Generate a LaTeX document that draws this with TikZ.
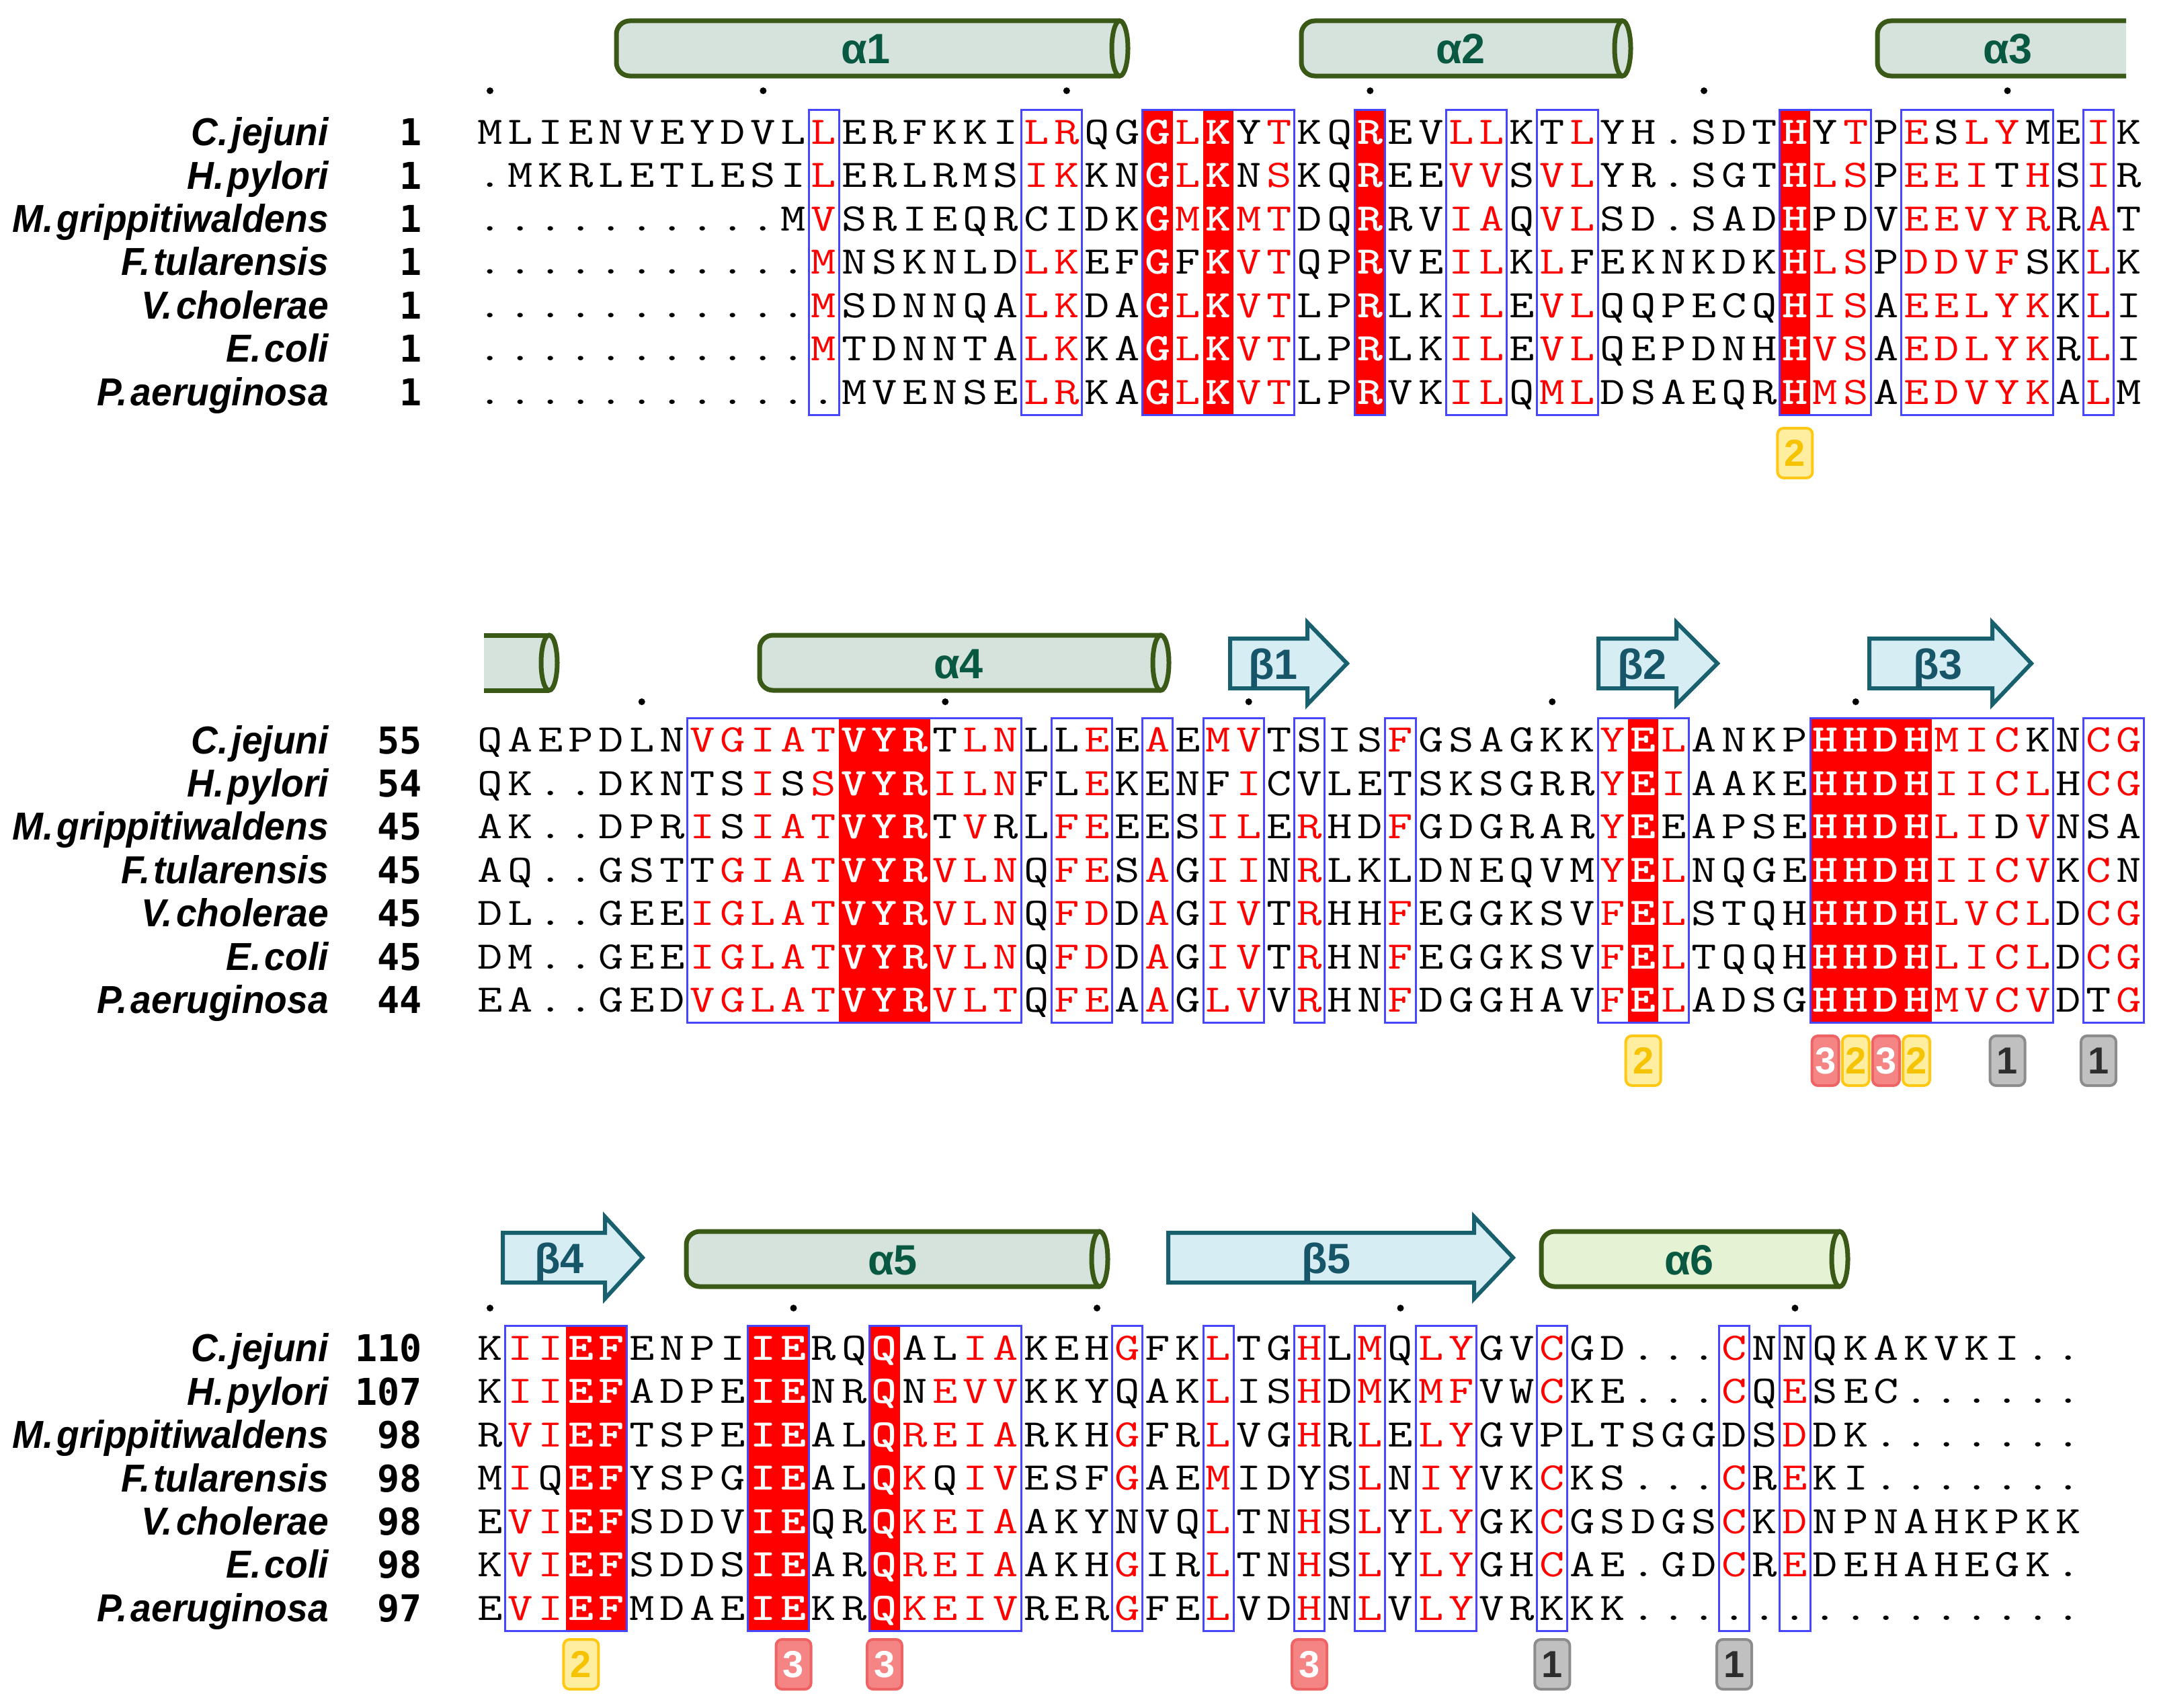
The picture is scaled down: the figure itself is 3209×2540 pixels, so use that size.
\documentclass[tikz,border=0pt]{standalone}
\usepackage{fontspec}
\usepackage{graphicx}
\newfontfamily\labfont[FakeStretch=0.95]{Liberation Sans}
\newfontfamily\ssfont{Liberation Sans}
\newfontfamily\numfont{DejaVu Sans Mono}

\definecolor{seqred}{RGB}{255,0,0}
\definecolor{boxblue}{RGB}{70,70,255}
\definecolor{hxfill}{RGB}{213,227,220}
\definecolor{hxfillb}{RGB}{229,242,212}
\definecolor{hxline}{RGB}{58,88,22}
\definecolor{hxtext}{RGB}{8,88,66}
\definecolor{btfill}{RGB}{214,237,244}
\definecolor{btline}{RGB}{24,96,110}
\definecolor{bttext}{RGB}{22,86,104}
\definecolor{gAfill}{RGB}{192,192,192}
\definecolor{gAline}{RGB}{140,140,140}
\definecolor{gAtext}{RGB}{45,45,45}
\definecolor{gBfill}{RGB}{255,238,160}
\definecolor{gBline}{RGB}{255,200,20}
\definecolor{gBtext}{RGB}{245,195,0}
\definecolor{gCfill}{RGB}{245,132,132}
\definecolor{gCline}{RGB}{238,100,100}

\newcommand\seqfnt{\ttfamily\fontsize{58}{60}\selectfont}
\newcommand\seqfntb{\ttfamily\bfseries\fontsize{58}{60}\selectfont}

% ---- sequence row machinery ----
\newcount\SQcol
\def\SQend{\SQend}
\def\SQrow#1#2#3{\def\SQrowid{#1}\pgfmathsetmacro\SQy{#2+17.7}\global\SQcol=0 \SQprocA#3\SQend}
\def\SQprocA#1{\ifx#1\SQend\let\SQnext\relax\else\chardef\SQcode=`#1\relax\let\SQnext\SQprocB\fi\SQnext}
\def\SQprocB{\SQplace\global\advance\SQcol by 1\relax\SQprocA}
\def\SQplace{%
  \pgfmathsetmacro\SQx{\SQxo+\the\SQcol*\SQp}%
  \ifnum\SQcode>96 \chardef\SQup=\numexpr\SQcode-32\relax\else\chardef\SQup=\SQcode\fi
  \ifcsname rc-\SQblk-\the\SQcol\endcsname
    \node[wch] (b\SQblk r\SQrowid c\the\SQcol) at (\SQx,\SQy) {\scalebox{1.25}[1]{\char\SQup}};%
  \else\ifnum\SQcode>96
    \node[rch] (b\SQblk r\SQrowid c\the\SQcol) at (\SQx,\SQy) {\scalebox{1.25}[1]{\char\SQup}};%
  \else
    \node[kch] (b\SQblk r\SQrowid c\the\SQcol) at (\SQx,\SQy) {\scalebox{1.25}[1]{\char\SQup}};%
  \fi\fi}

\newcommand\SQbox[2]{\draw[bbox] ({\SQxo+(#1-0.5)*\SQp},\SQtop) rectangle ({\SQxo+(#2+0.5)*\SQp},\SQbot);}
\newcommand\SQred[2]{\fill[redcol] ({\SQxo+(#1-0.5)*\SQp},\SQtop) rectangle ({\SQxo+(#2+0.5)*\SQp},\SQbot);}
\newcommand\SQdots[2]{\foreach \c in {#2} {\fill ({\SQxo+\c*\SQp},#1) circle [radius=5];}}
\newcommand\SQname[4]{%
  \node[splab] (lab#1) at (489,{#2+20}) {#3};
  \node[numlab] (num#1) at (628,{#2+20}) {#4};}
\newcommand\SQbadge[6]{\node[#2, minimum width=#5pt] (#1) at ({\SQxo+#3*\SQp},#4) {#6};}

% ---- secondary structure ----
\newcommand\HelixFull[4]{%
  \fill[#4] ({#1+20},{#3-41}) rectangle (#2,{#3+41});
  \fill[#4,rounded corners=20pt] (#1,{#3-41}) rectangle ({#1+45},{#3+41});
  \draw[hxl,rounded corners=20pt] (#2,{#3-41}) -- (#1,{#3-41}) -- (#1,{#3+41}) -- (#2,{#3+41});
  \filldraw[hxl,fill=#4] (#2,#3) ellipse [x radius=12,y radius=41];}
\newcommand\HelixOpenR[4]{%
  \fill[#4] ({#1+20},{#3-41}) rectangle (#2,{#3+41});
  \fill[#4,rounded corners=20pt] (#1,{#3-41}) rectangle ({#1+45},{#3+41});
  \draw[hxl,rounded corners=20pt] (#2,{#3-41}) -- (#1,{#3-41}) -- (#1,{#3+41}) -- (#2,{#3+41});}
\newcommand\HelixOpenL[4]{%
  \fill[#4] (#1,{#3-41}) rectangle (#2,{#3+41});
  \draw[hxl] (#1,{#3-41}) -- (#2,{#3-41});
  \draw[hxl] (#1,{#3+41}) -- (#2,{#3+41});
  \filldraw[hxl,fill=#4] (#2,#3) ellipse [x radius=12,y radius=41];}
\newcommand\BetaArrow[4]{%
  \filldraw[btl] (#1,{#4-37}) -- (#2,{#4-37}) -- (#2,{#4-61}) -- (#3,#4) -- (#2,{#4+61}) -- (#2,{#4+37}) -- (#1,{#4+37}) -- cycle;}

\tikzset{
  ch/.style={inner sep=0pt, anchor=base},
  kch/.style={ch, text=black, font=\seqfnt},
  rch/.style={ch, text=seqred, font=\seqfnt},
  wch/.style={ch, text=white, font=\seqfntb},
  bbox/.style={draw=boxblue, line width=3pt},
  redcol/.style={fill=seqred},
  hxl/.style={draw=hxline, line width=7pt},
  btl/.style={draw=btline, fill=btfill, line width=6pt, line join=miter},
  hxlab/.style={anchor=base, text=hxtext, inner sep=0pt, font=\ssfont\bfseries\fontsize{63}{66}\selectfont},
  btlab/.style={anchor=base, text=bttext, inner sep=0pt, font=\ssfont\bfseries\fontsize{63}{66}\selectfont},
  splab/.style={anchor=base east, inner sep=0pt, font=\labfont\bfseries\itshape\fontsize{58}{60}\selectfont},
  numlab/.style={anchor=base east, inner sep=0pt, font=\numfont\bfseries\fontsize{55}{60}\selectfont},
  badge/.style={rounded corners=9pt, line width=4pt, minimum height=74pt, inner sep=0pt, font=\ssfont\bfseries\fontsize{56}{56}\selectfont},
  badgeone/.style={badge, draw=gAline, fill=gAfill, text=gAtext},
  badgetwo/.style={badge, draw=gBline, fill=gBfill, text=gBtext},
  badgethree/.style={badge, draw=gCline, fill=gCfill, text=white},
}

\begin{document}
\begin{tikzpicture}[x=1pt,y=-1pt]
\useasboundingbox (0,0) rectangle (3209,2540);
\fill[white] (0,0) rectangle (3209,2540);
\def\SQxo{729}\def\SQp{45.15}

% ================= secondary structure =================
\HelixFull{917}{1666}{72}{hxfill}
\node[hxlab] (ha1) at (1288,95) {α1};
\HelixFull{1936}{2414}{72}{hxfill}
\node[hxlab] (ha2) at (2173,95) {α2};
\HelixOpenR{2793}{3163}{72}{hxfill}
\node[hxlab] (ha3) at (2987,95) {α3};

\HelixOpenL{720}{817}{986}{hxfill}
\HelixFull{1130}{1727}{986}{hxfill}
\node[hxlab] (ha4) at (1426,1009) {α4};
\BetaArrow{1830}{1945}{2004}{987}
\node[btlab] (hb1) at (1894,1010) {β1};
\BetaArrow{2378}{2494}{2555}{987}
\node[btlab] (hb2) at (2443,1010) {β2};
\BetaArrow{2781}{2964}{3022}{987}
\node[btlab] (hb3) at (2883,1010) {β3};

\BetaArrow{748}{900}{956}{1871}
\node[btlab] (hb4) at (832,1894) {β4};
\HelixFull{1021}{1636}{1873}{hxfill}
\node[hxlab] (ha5) at (1328,1896) {α5};
\BetaArrow{1738}{2193}{2251}{1871}
\node[btlab] (hb5) at (1973,1894) {β5};
\HelixFull{2293}{2737}{1873}{hxfillb}
\node[hxlab] (ha6) at (2513,1896) {α6};

% ================= ruler dots =================
\SQdots{135}{0,9,19,29,40,50}
\SQdots{1044}{5,15,25,35,45}
\SQdots{1946}{0,10,20,30,43}

% ================= red columns definitions =================
\foreach \c in {22,24,29,43}{\expandafter\gdef\csname rc-1-\c\endcsname{}}
\foreach \c in {12,13,14,38,44,45,46,47}{\expandafter\gdef\csname rc-2-\c\endcsname{}}
\foreach \c in {3,4,9,10,13}{\expandafter\gdef\csname rc-3-\c\endcsname{}}

% ================= block 1 =================
\def\SQtop{163.5}\def\SQbot{617.3}\def\SQblk{1}
\SQred{22}{22}\SQred{24}{24}\SQred{29}{29}\SQred{43}{43}
\SQbox{11}{11}\SQbox{18}{19}\SQbox{22}{26}\SQbox{29}{29}\SQbox{32}{33}
\SQbox{35}{36}\SQbox{43}{45}\SQbox{47}{51}\SQbox{53}{53}
\SQrow{1}{196.5}{MLIENVEYDVLlERFKKIlrQGGlKYtKQREVllKTlYH.SDTHYtPeSlyMEiK}
\SQrow{2}{261.0}{.MKRLETLESIlERLRMSikKNGlKNsKQREEvvSvlYR.SGTHlsPeeiThSiR}
\SQrow{3}{325.4}{..........MvSRIEQRCIDKGmKmtDQRRViaQvlSD.SADHPDVeevyrRaT}
\SQrow{4}{389.9}{...........mNSKNLDlkEFGFKvtQPRVEilKlFEKNKDKHlsPddvfSKlK}
\SQrow{5}{454.4}{...........mSDNNQAlkDAGlKvtLPRLKilEvlQQPECQHisAeelykKlI}
\SQrow{6}{518.8}{...........mTDNNTAlkKAGlKvtLPRLKilEvlQEPDNHHvsAedlykRlI}
\SQrow{7}{583.3}{............MVENSElrKAGlKvtLPRVKilQmlDSAEQRHmsAedvykAlM}
\SQname{1a}{196.5}{C.\hspace{5pt}jejuni}{1}
\SQname{1b}{261.0}{H.\hspace{5pt}pylori}{1}
\SQname{1c}{325.4}{M.\hspace{5pt}grippitiwaldens}{1}
\SQname{1d}{389.9}{F.\hspace{5pt}tularensis}{1}
\SQname{1e}{454.4}{V.\hspace{5pt}cholerae}{1}
\SQname{1f}{518.8}{E.\hspace{5pt}coli}{1}
\SQname{1g}{583.3}{P.\hspace{5pt}aeruginosa}{1}
\SQbadge{g1a}{badgetwo}{43}{674}{52}{2}

% ================= block 2 =================
\def\SQtop{1068}\def\SQbot{1521.8}\def\SQblk{2}
\SQred{12}{14}\SQred{38}{38}\SQred{44}{47}
\SQbox{7}{17}\SQbox{19}{20}\SQbox{22}{22}\SQbox{24}{25}\SQbox{27}{27}
\SQbox{30}{30}\SQbox{37}{39}\SQbox{44}{51}\SQbox{53}{54}
\SQrow{1}{1101.0}{QAEPDLNvgiatVYRTlnLLeEaEmvTSISfGSAGKKyElANKPHHDHmicKNcg}
\SQrow{2}{1165.5}{QK..DKNTSiSsVYRilnFLeKENFiCVLETSKSGRRyEiAAKEHHDHiiclHcg}
\SQrow{3}{1229.9}{AK..DPRiSiatVYRTvRLfeEESilErHDfGDGRARyEEAPSEHHDHliDvNSA}
\SQrow{4}{1294.4}{AQ..GSTTgiatVYRvlnQfeSaGiiNrLKLDNEQVMyElNQGEHHDHiicvKcN}
\SQrow{5}{1358.9}{DL..GEEiglatVYRvlnQfdDaGivTrHHfEGGKSVfElSTQHHHDHlvclDcg}
\SQrow{6}{1423.4}{DM..GEEiglatVYRvlnQfdDaGivTrHNfEGGKSVfElTQQHHHDHliclDcg}
\SQrow{7}{1487.8}{EA..GEDvglatVYRvltQfeAaGlvVrHNfDGGHAVfElADSGHHDHmvcvDTg}
\SQname{2a}{1101.0}{C.\hspace{5pt}jejuni}{55}
\SQname{2b}{1165.5}{H.\hspace{5pt}pylori}{54}
\SQname{2c}{1229.9}{M.\hspace{5pt}grippitiwaldens}{45}
\SQname{2d}{1294.4}{F.\hspace{5pt}tularensis}{45}
\SQname{2e}{1358.9}{V.\hspace{5pt}cholerae}{45}
\SQname{2f}{1423.4}{E.\hspace{5pt}coli}{45}
\SQname{2g}{1487.8}{P.\hspace{5pt}aeruginosa}{44}
\SQbadge{g2a}{badgetwo}{38}{1578}{52}{2}
\SQbadge{g2b}{badgethree}{44}{1578}{40}{3}
\SQbadge{g2c}{badgetwo}{45}{1578}{40}{2}
\SQbadge{g2d}{badgethree}{46}{1578}{40}{3}
\SQbadge{g2e}{badgetwo}{47}{1578}{40}{2}
\SQbadge{g2f}{badgeone}{50}{1578}{52}{1}
\SQbadge{g2g}{badgeone}{53}{1578}{52}{1}

% ================= block 3 =================
\def\SQtop{1972.6}\def\SQbot{2426.4}\def\SQblk{3}
\SQred{3}{4}\SQred{9}{10}\SQred{13}{13}
\SQbox{1}{4}\SQbox{9}{10}\SQbox{13}{17}\SQbox{21}{21}\SQbox{24}{24}
\SQbox{27}{27}\SQbox{29}{29}\SQbox{31}{32}\SQbox{35}{35}\SQbox{41}{41}\SQbox{43}{43}
\SQrow{1}{2005.6}{KiiEFENPIIERQQALiaKEHgFKlTGhLmQlyGVcGD...cNNQKAKVKI..}
\SQrow{2}{2070.1}{KiiEFADPEIENRQNevvKKYQAKlIShDmKmfVWcKE...cQeSEC......}
\SQrow{3}{2134.5}{RviEFTSPEIEALQreiaRKHgFRlVGhRlElyGVPLTSGGDSdDK.......}
\SQrow{4}{2199.0}{MiQEFYSPGIEALQkQivESFgAEmIDYSlNiyVKcKS...cReKI.......}
\SQrow{5}{2263.5}{EviEFSDDVIEQRQkeiaAKYNVQlTNhSlYlyGKcGSDGScKdNPNAHKPKK}
\SQrow{6}{2327.9}{KviEFSDDSIEARQreiaAKHgIRlTNhSlYlyGHcAE.GDcReDEHAHEGK.}
\SQrow{7}{2392.4}{EviEFMDAEIEKRQkeivRERgFElVDhNlVlyVRKKK...............}
\SQname{3a}{2005.6}{C.\hspace{5pt}jejuni}{110}
\SQname{3b}{2070.1}{H.\hspace{5pt}pylori}{107}
\SQname{3c}{2134.5}{M.\hspace{5pt}grippitiwaldens}{98}
\SQname{3d}{2199.0}{F.\hspace{5pt}tularensis}{98}
\SQname{3e}{2263.5}{V.\hspace{5pt}cholerae}{98}
\SQname{3f}{2327.9}{E.\hspace{5pt}coli}{98}
\SQname{3g}{2392.4}{P.\hspace{5pt}aeruginosa}{97}
\SQbadge{g3a}{badgetwo}{3}{2476}{52}{2}
\SQbadge{g3b}{badgethree}{10}{2476}{52}{3}
\SQbadge{g3c}{badgethree}{13}{2476}{52}{3}
\SQbadge{g3d}{badgethree}{27}{2476}{52}{3}
\SQbadge{g3e}{badgeone}{35}{2476}{52}{1}
\SQbadge{g3f}{badgeone}{41}{2476}{52}{1}
\end{tikzpicture}
\end{document}
